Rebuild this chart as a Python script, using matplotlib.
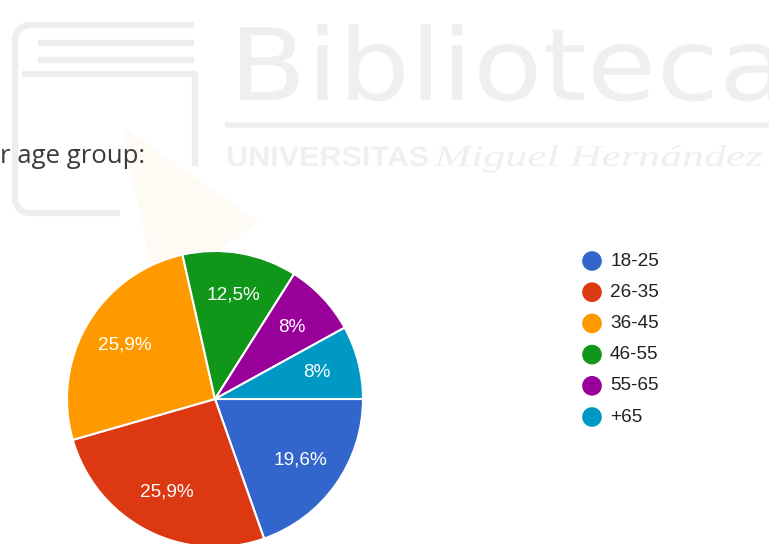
"""Age-group pie chart (Google Forms style) over a faint library watermark."""

import matplotlib

matplotlib.use("Agg")
import matplotlib.pyplot as plt
from matplotlib.font_manager import FontProperties
from matplotlib.patches import Arc, PathPatch, Polygon
from matplotlib.textpath import TextPath
from matplotlib.transforms import Affine2D

W, H = 769, 544

# Data
age_groups = ["18-25", "26-35", "36-45", "46-55", "55-65", "+65"]
shares = [19.6, 25.9, 25.9, 12.5, 8.0, 8.0]
share_labels = ["19,6%", "25,9%", "25,9%", "12,5%", "8%", "8%"]
colors = ["#3366cc", "#dc3912", "#ff9900", "#109618", "#990099", "#0099c6"]
question = "r age group:"

plt.rcParams["font.family"] = ["Liberation Sans", "DejaVu Sans"]

fig = plt.figure(figsize=(W / 100, H / 100), dpi=100)
ax = fig.add_axes([0, 0, 1, 1])


def y_(py):
    """Convert a pixel row (from top) to data y."""
    return H - py


def stretched_text(s, x0, x1, baseline, em, prop, color):
    """Draw text as a path, stretched horizontally to span x0..x1."""
    path = TextPath((0, 0), s, size=em, prop=prop)
    ext = path.get_extents()
    sx = (x1 - x0) / ext.width
    tr = Affine2D().translate(-ext.x0, 0).scale(sx, 1).translate(x0, y_(baseline))
    ax.add_patch(PathPatch(path, transform=tr + ax.transData, facecolor=color,
                           edgecolor="none", zorder=0))


def wm_line(xs, ys):
    ax.plot(xs, [y_(v) for v in ys], color=wm, linewidth=4.5, zorder=0,
            solid_capstyle="butt")


# --- faint watermark --------------------------------------------------------
wm = "#eeeeee"
# book icon
wm_line([15, 15], [40, 198])
wm_line([30, 194], [25, 25])
wm_line([30, 120], [213, 213])
wm_line([38, 194], [43, 43])
wm_line([38, 194], [60, 60])
wm_line([22, 197], [74, 74])
wm_line([195, 195], [74, 166])
for cx, cy, t1, t2 in [(30, 40, 90, 180), (30, 198, 180, 270)]:
    ax.add_patch(Arc((cx, y_(cy)), 30, 30, theta1=t1, theta2=t2, color=wm,
                     linewidth=4.5, zorder=0))
# faint cursor shape
ax.add_patch(Polygon([(122, y_(126)), (258, y_(222)), (205, y_(262)), (150, y_(262))],
                     closed=True, facecolor="#fefbf5", edgecolor="none", zorder=0))

stretched_text("Biblioteca", 240, 778, 100, 100, FontProperties(family="DejaVu Sans"), "#efefef")
ax.plot([228, W], [y_(125), y_(125)], color=wm, linewidth=4, zorder=0)
stretched_text("UNIVERSITAS", 228, 428, 166, 28,
               FontProperties(family="Liberation Sans", weight="bold"), "#f0f0f0")
stretched_text("Miguel Hernández", 434, 762, 166, 30,
               FontProperties(family="Liberation Serif", style="italic"), "#efefef")

# --- question text (original is cut at the left edge) ----------------------
ax.text(0.5, y_(163), question, fontsize=18.5, color="#3a3a3a",
        family=["Open Sans", "DejaVu Sans"], ha="left", va="baseline")

# --- pie ------------------------------------------------------------------
wedges, _, autotexts = ax.pie(
    shares,
    colors=colors,
    startangle=0,
    counterclock=False,
    center=(215, y_(399)),
    radius=148,
    autopct="%1.1f%%",
    pctdistance=0.71,
    wedgeprops={"edgecolor": "white", "linewidth": 1.5},
)
for text, label in zip(autotexts, share_labels):
    text.set_text(label)
    text.set_color("white")
    text.set_fontsize(13.7)

# --- legend ----------------------------------------------------------------
for i, (group, color) in enumerate(zip(age_groups, colors)):
    ly = y_(261 + i * 31.2)
    ax.scatter([592], [ly], s=200, color=color, edgecolors="none", zorder=3)
    ax.text(610, ly, group, fontsize=13.7, color="#222222", ha="left", va="center")

ax.set_xlim(0, W)
ax.set_ylim(0, H)
ax.set_aspect("equal")
ax.axis("off")

fig.savefig("out.png", dpi=100, facecolor="white")
